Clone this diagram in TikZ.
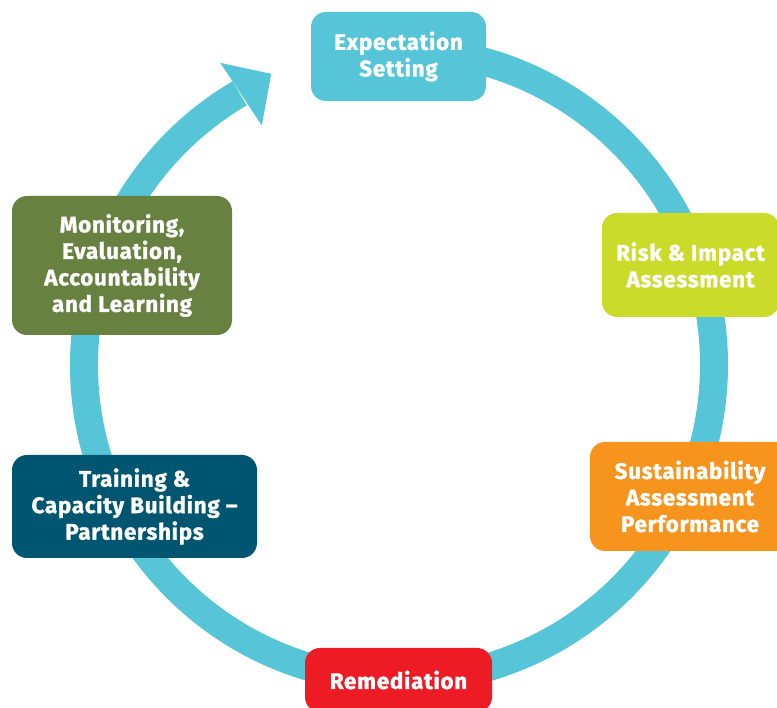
\documentclass[tikz,border=0pt]{standalone}
\usepackage{fontspec}
\setsansfont{Fira Sans}[LetterSpace=3,BoldFeatures={FakeBold=1.2}]
\usepackage{xcolor}
\definecolor{ringblue}{HTML}{56C5D8}
\definecolor{riskgreen}{HTML}{CADB2A}
\definecolor{sustorange}{HTML}{F7941E}
\definecolor{remred}{HTML}{ED1C24}
\definecolor{traindark}{HTML}{005670}
\definecolor{monitorgreen}{HTML}{678140}

\begin{document}
\begin{tikzpicture}
  [x=1pt,y=1pt,
   stage/.style={rounded corners=15pt,text=white,align=center,inner sep=0pt,
     font=\sffamily\bfseries\fontsize{22.5}{26.5}\selectfont}]
\useasboundingbox (0,0) rectangle (777,708);
\clip (0,0) rectangle (777,708);

% the cycle ring and its head
\begin{scope}[shift={(399,343)}]
\coordinate (centre) at (0,0);
\draw [ringblue,line width=28pt]
    (85:315) arc [start angle=85,end angle=-239.6,radius=315];
\fill [ringblue]
    (120.6:351) -- (113.7:318) -- (119.8:276) -- cycle;
\end{scope}

% stages
\path
    [stage]
    (398.5,651.5) node [fill=ringblue,minimum width=175pt,minimum height=89pt] (expect) {Expectation\\Setting}
    (690.5,443) node [fill=riskgreen,minimum width=177pt,minimum height=104pt] (risk) {Risk \& Impact\\Assessment}
    (690,211.5) node [fill=sustorange,minimum width=200pt,minimum height=109pt] (sustain) {Sustainability\\Assessment\\Performance}
    (398.5,28) node [fill=remred,minimum width=187pt,minimum height=64pt] (remedy) {Remediation}
    (134.5,201.5) node [fill=traindark,minimum width=245pt,minimum height=103pt] (training) {Training \&\\Capacity Building --\\Partnerships}
    (122,442.5) node [fill=monitorgreen,minimum width=220pt,minimum height=139pt] (monitor) {Monitoring,\\Evaluation,\\Accountability\\and Learning};
\end{tikzpicture}
\end{document}
